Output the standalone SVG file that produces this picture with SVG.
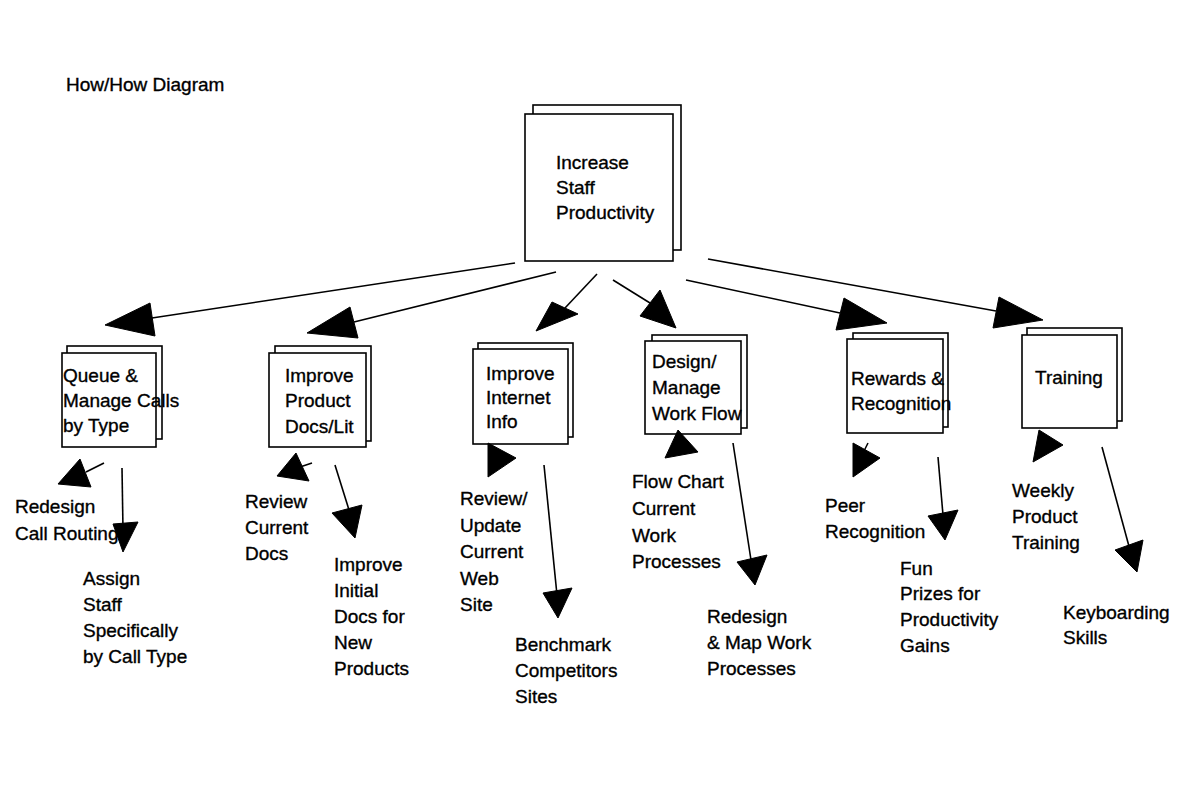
<svg xmlns="http://www.w3.org/2000/svg" width="1186" height="802" viewBox="0 0 1186 802">
<style>
text{font-family:"Liberation Sans",Arial,sans-serif;font-size:19px;fill:#000;stroke:#000;stroke-width:0.35}
.title{font-size:19px}
.bk{fill:#fff;stroke:#000;stroke-width:1.6}
.fr{fill:#fff;stroke:#000;stroke-width:1.6}
.ln{stroke:#000;stroke-width:1.6;fill:none}
.ah{fill:#000;stroke:#000;stroke-width:1}
</style>
<rect width="1186" height="802" fill="#fff"/>
<text class="title" x="66" y="91">How/How Diagram</text>

<g id="root">
<rect class="bk" x="533" y="105" width="148" height="145"/>
<rect class="fr" x="525" y="114" width="148" height="147"/>
<text x="556" y="169">Increase</text>
<text x="556" y="194">Staff</text>
<text x="556" y="219">Productivity</text>
</g>

<g id="queue">
<rect class="bk" x="67" y="346" width="95" height="93"/>
<rect class="fr" x="62" y="353" width="94" height="94"/>
<text x="63" y="382">Queue &amp;</text>
<text x="63" y="407">Manage Calls</text>
<text x="63" y="432">by Type</text>
</g>

<g id="product">
<rect class="bk" x="275" y="346" width="96" height="95"/>
<rect class="fr" x="269" y="353" width="97" height="94"/>
<text x="285" y="382">Improve</text>
<text x="285" y="407">Product</text>
<text x="285" y="433">Docs/Lit</text>
</g>

<g id="internet">
<rect class="bk" x="478" y="343" width="95" height="94"/>
<rect class="fr" x="473" y="349" width="95" height="95"/>
<text x="486" y="380">Improve</text>
<text x="486" y="404">Internet</text>
<text x="486" y="428">Info</text>
</g>

<g id="workflow">
<rect class="bk" x="652" y="335" width="95" height="93"/>
<rect class="fr" x="645" y="341" width="96" height="93"/>
<text x="652" y="368">Design/</text>
<text x="652" y="394">Manage</text>
<text x="652" y="420">Work Flow</text>
</g>

<g id="rewards">
<rect class="bk" x="853" y="333" width="95" height="94"/>
<rect class="fr" x="847" y="339" width="96" height="94"/>
<text x="851" y="385">Rewards &amp;</text>
<text x="851" y="410">Recognition</text>
</g>

<g id="training">
<rect class="bk" x="1027" y="328" width="95" height="93"/>
<rect class="fr" x="1022" y="335" width="95" height="93"/>
<text x="1035" y="384">Training</text>
</g>

<g id="leaf-redesign-routing">
<text x="15" y="513">Redesign</text>
<text x="15" y="540">Call Routing</text>
</g>
<g id="leaf-assign-staff">
<text x="83" y="585">Assign</text>
<text x="83" y="611">Staff</text>
<text x="83" y="637">Specifically</text>
<text x="83" y="663">by Call Type</text>
</g>
<g id="leaf-review-docs">
<text x="245" y="508">Review</text>
<text x="245" y="534">Current</text>
<text x="245" y="560">Docs</text>
</g>
<g id="leaf-initial-docs">
<text x="334" y="571">Improve</text>
<text x="334" y="597">Initial</text>
<text x="334" y="623">Docs for</text>
<text x="334" y="649">New</text>
<text x="334" y="675">Products</text>
</g>
<g id="leaf-update-web">
<text x="460" y="505">Review/</text>
<text x="460" y="532">Update</text>
<text x="460" y="558">Current</text>
<text x="460" y="585">Web</text>
<text x="460" y="611">Site</text>
</g>
<g id="leaf-benchmark">
<text x="515" y="651">Benchmark</text>
<text x="515" y="677">Competitors</text>
<text x="515" y="703">Sites</text>
</g>
<g id="leaf-flow-chart">
<text x="632" y="488">Flow Chart</text>
<text x="632" y="515">Current</text>
<text x="632" y="542">Work</text>
<text x="632" y="568">Processes</text>
</g>
<g id="leaf-redesign-map">
<text x="707" y="623">Redesign</text>
<text x="707" y="649">&amp; Map Work</text>
<text x="707" y="675">Processes</text>
</g>
<g id="leaf-peer">
<text x="825" y="512">Peer</text>
<text x="825" y="538">Recognition</text>
</g>
<g id="leaf-fun-prizes">
<text x="900" y="575">Fun</text>
<text x="900" y="600">Prizes for</text>
<text x="900" y="626">Productivity</text>
<text x="900" y="652">Gains</text>
</g>
<g id="leaf-weekly">
<text x="1012" y="497">Weekly</text>
<text x="1012" y="523">Product</text>
<text x="1012" y="549">Training</text>
</g>
<g id="leaf-keyboarding">
<text x="1063" y="619">Keyboarding</text>
<text x="1063" y="644">Skills</text>
</g>

<g id="connectors">
<line class="ln" x1="515" y1="263" x2="152" y2="318"/>
<polygon class="ah" points="105,325 150,303 155,336"/>
<line class="ln" x1="556" y1="272" x2="354" y2="322"/>
<polygon class="ah" points="307,333 350,307 358,338"/>
<line class="ln" x1="597" y1="274" x2="565" y2="308"/>
<polygon class="ah" points="536,331 552,302 578,314"/>
<line class="ln" x1="613" y1="280" x2="650" y2="303"/>
<polygon class="ah" points="676,328 640,316 660,290"/>
<line class="ln" x1="686" y1="280" x2="840" y2="313"/>
<polygon class="ah" points="887,323 836,330 844,298"/>
<line class="ln" x1="708" y1="259" x2="996" y2="311"/>
<polygon class="ah" points="1043,320 993,328 999,297"/>

<line class="ln" x1="104" y1="463" x2="86" y2="472"/>
<polygon class="ah" points="58,484 80,459 91,487"/>
<line class="ln" x1="122" y1="468" x2="123" y2="530"/>
<polygon class="ah" points="123,552 113,524 138,522"/>

<line class="ln" x1="312" y1="463" x2="297" y2="468"/>
<polygon class="ah" points="277,476 296,453 309,481"/>
<line class="ln" x1="335" y1="465" x2="349" y2="510"/>
<polygon class="ah" points="355,538 332,513 362,505"/>

<polygon class="ah" points="488,443 488,477 516,458"/>
<line class="ln" x1="544" y1="465" x2="557" y2="595"/>
<polygon class="ah" points="558,618 543,593 572,588"/>

<polygon class="ah" points="678,430 665,458 698,452"/>
<line class="ln" x1="733" y1="443" x2="751" y2="560"/>
<polygon class="ah" points="755,585 737,562 767,555"/>

<line class="ln" x1="868" y1="443" x2="862" y2="455"/>
<polygon class="ah" points="853,443 853,477 880,458"/>
<line class="ln" x1="938" y1="457" x2="943" y2="515"/>
<polygon class="ah" points="945,540 928,516 958,510"/>

<polygon class="ah" points="1039,430 1033,462 1063,445"/>
<line class="ln" x1="1102" y1="447" x2="1130" y2="550"/>
<polygon class="ah" points="1137,572 1115,550 1143,540"/>
</g>
</svg>
